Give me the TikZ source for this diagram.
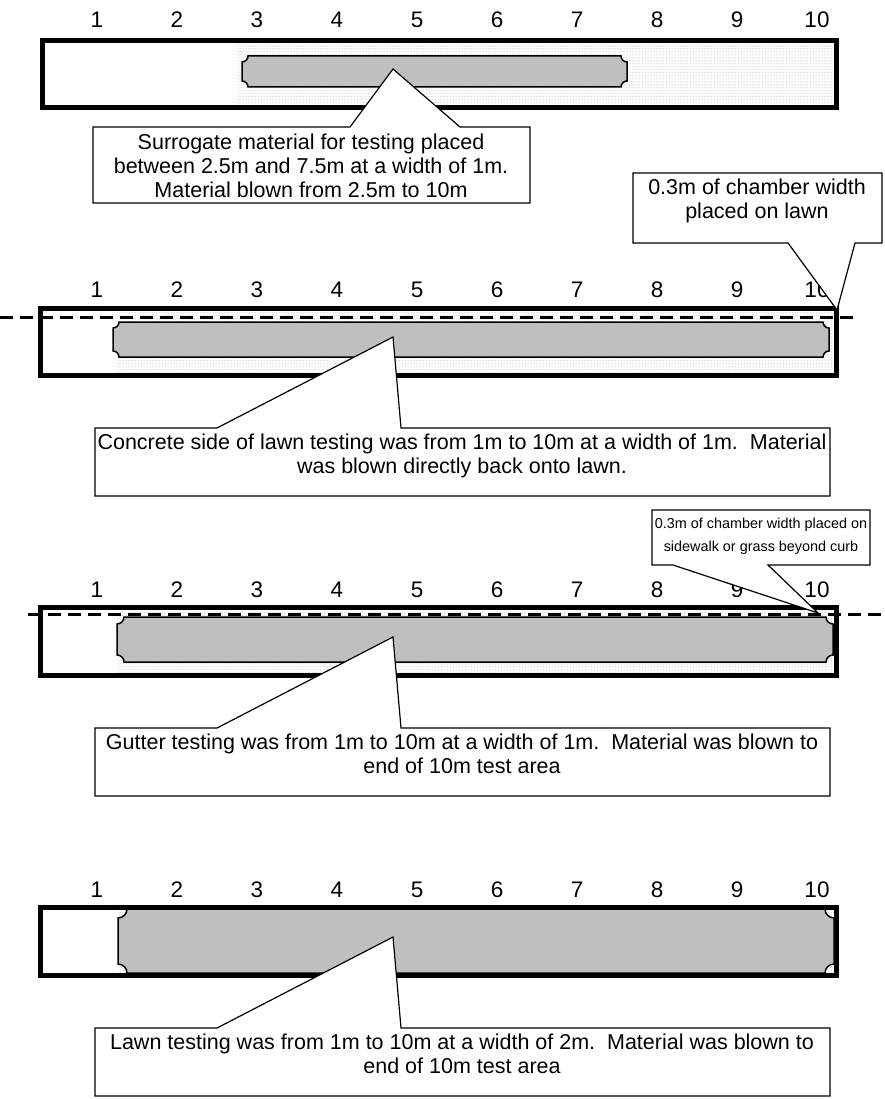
\documentclass[tikz,border=0pt]{standalone}
\usepackage{fontspec}
\setmainfont{Liberation Sans}
\usepackage{tikz}
\usetikzlibrary{patterns}

\begin{document}
\begin{tikzpicture}[x=1pt,y=-1pt,font=\fontsize{21.5}{24}\selectfont,
    stipple/.style={pattern=dots,pattern color=black!45},
    frame/.style={line width=5pt},
    strip/.style={draw,fill=black!25,line width=1.5pt},
    cutline/.style={line width=3pt,dash pattern=on 13pt off 7pt},
    callbox/.style={draw,fill=white,line width=1.2pt},
    tick/.style={font=\fontsize{22.5}{24}\selectfont},
    note/.style={align=center,anchor=north,inner sep=0pt}]
    \useasboundingbox (0,0) rectangle (884,1099);

    \newcommand{\drawscale}[2]{%
        \foreach [count=\col from 0] \num in {1,...,10} {
            \node[tick] (#1\num) at ({97+80*\col},#2) {\num};
        }
    }
    \newcommand{\drawstrip}[5]{%
        \draw[strip] (#1,#2+#5)
            .. controls (#1+0.55*#5,#2+#5) and (#1+#5,#2+0.55*#5) .. (#1+#5,#2)
            -- (#3-#5,#2)
            .. controls (#3-#5,#2+0.55*#5) and (#3-0.55*#5,#2+#5) .. (#3,#2+#5)
            -- (#3,#4-#5)
            .. controls (#3-0.55*#5,#4-#5) and (#3-#5,#4-0.55*#5) .. (#3-#5,#4)
            -- (#1+#5,#4)
            .. controls (#1+#5,#4-0.55*#5) and (#1+0.55*#5,#4-#5) .. (#1,#4-#5)
            -- cycle;
    }
    \newcommand{\drawnote}[4]{%
        \draw[callbox] (95,#1) -- (217,#1) -- (393,#2) -- (401,#1)
            -- (830,#1) -- (830,#1+68) -- (95,#1+68) -- cycle;
        \node[note] (#3) at (462,#1+6) {#4};
    }

    \drawscale{a}{20}
    \fill[stipple] (237,43) rectangle (834,106);
    \drawstrip{242}{56}{627}{87}{6}
    \draw[frame] (42,41) rectangle (836,108);
    \draw[callbox] (93,127) -- (350,127) -- (393,69) -- (460,127)
        -- (530,127) -- (530,203) -- (93,203) -- cycle;
    \node[note] (surrogate) at (311,134)
        {Surrogate material for testing placed\\between 2.5m and 7.5m at a width of 1m.\\Material blown from 2.5m to 10m};

    \drawscale{b}{290}
    \fill[stipple] (117,310) rectangle (834,373);
    \drawstrip{113}{322}{829}{357}{6}
    \draw[frame] (40,308) rectangle (836,375);
    \draw[cutline] (0,317) -- (860,317);
    \draw[callbox] (633,173) -- (882,173) -- (882,243) -- (855,243)
        -- (837,310) -- (788,243) -- (633,243) -- cycle;
    \node[note] (lawnedge) at (757,179) {0.3m of chamber width\\placed on lawn};
    \drawnote{428}{337}{concrete}{Concrete side of lawn testing was from 1m to 10m at a width of 1m.\ \ Material\\was blown directly back onto lawn.}

    \drawscale{c}{590}
    \fill[stipple] (117,609) rectangle (834,673);
    \drawstrip{117}{617}{833}{662}{7}
    \draw[frame] (40,607) rectangle (836,675);
    \draw[cutline] (28,614) -- (884,614);
    \draw[callbox] (652,510) -- (870,510) -- (870,565) -- (768,565)
        -- (818,613) -- (673,565) -- (652,565) -- cycle;
    \node[note,font=\fontsize{14.4}{23}\selectfont] (curbedge) at (761,518)
        {0.3m of chamber width placed on\\sidewalk or grass beyond curb};
    \drawnote{728}{637}{gutter}{Gutter testing was from 1m to 10m at a width of 1m.\ \ Material was blown to\\end of 10m test area}

    \drawscale{d}{890}
    \fill[stipple] (118,909) rectangle (834,973);
    \drawstrip{118}{909}{834}{973}{9}
    \draw[frame] (40,907) rectangle (836,975);
    \drawnote{1028}{937}{lawn}{Lawn testing was from 1m to 10m at a width of 2m.\ \ Material was blown to\\end of 10m test area}
\end{tikzpicture}
\end{document}
